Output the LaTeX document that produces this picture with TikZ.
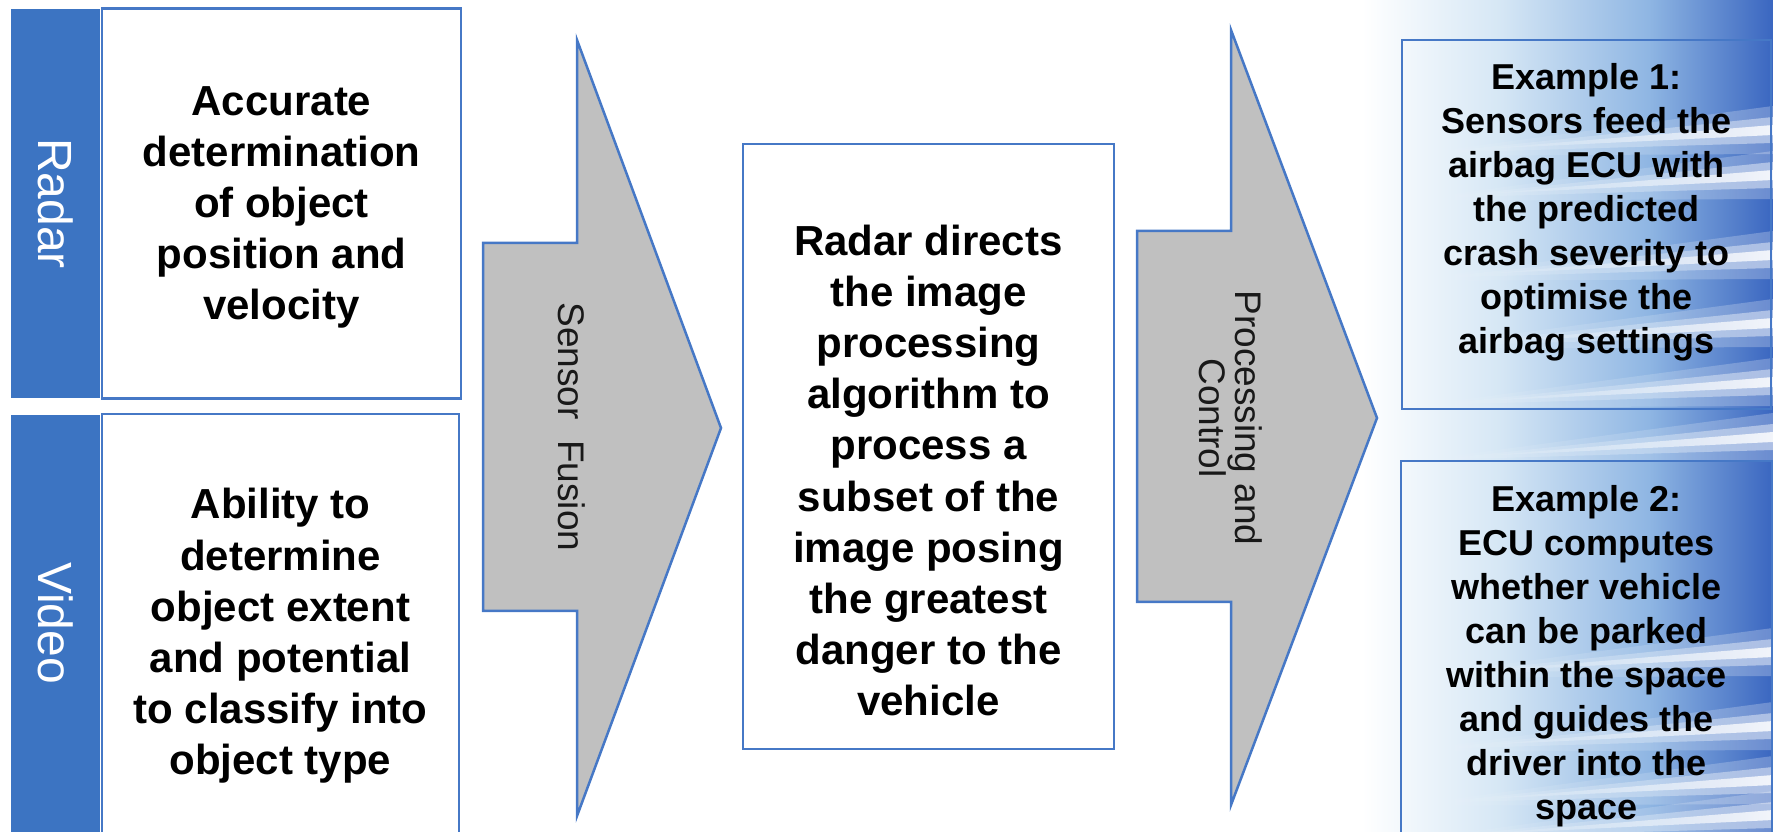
\documentclass[tikz,border=0pt]{standalone}
\usepackage{fontspec}
\setmainfont{Liberation Sans}
\usetikzlibrary{positioning,fadings}
\definecolor{sensblue}{HTML}{3C74C2}
\definecolor{edgeblue}{HTML}{4678C6}
\definecolor{fusegray}{HTML}{C0C0C0}
\definecolor{bglight}{HTML}{D6E7F5}
\definecolor{bgmid}{HTML}{8FB6E3}
\definecolor{bgdeep}{HTML}{3A66C0}
\pgfdeclarehorizontalshading{slideglow}{100bp}{color(0bp)=(white); color(25bp)=(white); color(42bp)=(white); color(53bp)=(bglight); color(65bp)=(bgmid); color(75bp)=(bgdeep); color(100bp)=(bgdeep)}

\tikzset{
  sensorbar/.style={fill=sensblue, minimum width=89pt, inner sep=0pt, outer sep=0pt},
  infobox/.style={draw=edgeblue, line width=2.5pt, inner sep=0pt, outer sep=0pt},
  boxtext/.style={align=center, font=\fontsize{42}{51.2}\selectfont\bfseries},
  extext/.style={align=center, font=\fontsize{36}{44}\selectfont\bfseries},
  barlabel/.style={text=white, rotate=-90, font=\fontsize{48}{56}\selectfont},
  arrowlabel/.style={rotate=-90, align=center, text=black!90, font=\fontsize{37}{36}\selectfont},
  flowarrow/.style={fill=fusegray, draw=edgeblue, line width=2.5pt, line join=miter},
  streak/.style={fill=white, path fading=west}
}

\begin{document}
\begin{tikzpicture}[x=1pt, y=1pt]
  \useasboundingbox (0,0) rectangle (1773,832);
  \clip (0,0) rectangle (1773,832);

  % background on the right
  \shade[shading=slideglow] (1150,0) rectangle (1773,832);
  \foreach \sy in {702,657,577,509,450,395,180,106,52,17} {
    \fill[streak, opacity=0.25] (1400,\sy-26) -- (1773,\sy+24) -- (1773,\sy-24) -- cycle;
    \fill[streak, opacity=0.45] (1430,\sy-23) -- (1773,\sy+13) -- (1773,\sy-13) -- cycle;
    \fill[streak, opacity=0.85] (1480,\sy-19) -- (1773,\sy+5) -- (1773,\sy-5) -- cycle;
  }

  % sensors
  \node[sensorbar, minimum height=389pt] (radarbar) at (55.5,628.5) {};
  \node[infobox, fill=white, minimum width=359pt, minimum height=390pt, right=2pt of radarbar] (radarbox) {};
  \node[sensorbar, minimum height=436pt, below=17pt of radarbar] (videobar) {};
  \node[infobox, fill=white, minimum width=357pt, minimum height=438pt, right=2pt of videobar] (videobox) {};

  \node[barlabel] (radarlbl) at (radarbar) {Radar};
  \node[barlabel] (videolbl) at ([yshift=10pt]videobar.center) {Video};
  \node[boxtext] (radartxt) at ([yshift=-4pt]radarbox.center) {Accurate\\determination\\of object\\position and\\velocity};
  \node[boxtext] (videotxt) at ([yshift=-3pt]videobox.center) {Ability to\\determine\\object extent\\and potential\\to classify into\\object type};

  % sensor fusion
  \draw[flowarrow] (483,589) -- (577,589) -- (577,792) -- (721,404) -- (577,16) -- (577,221) -- (483,221) -- cycle;
  \node[arrowlabel] (fusionlbl) at (572,405) {Sensor\ \ Fusion};

  \node[infobox, fill=white, minimum width=371pt, minimum height=605pt] (midbox) at (928.5,385.5) {};
  \node[boxtext] (midtxt) at ([yshift=-24pt]midbox.center) {Radar directs\\the image\\processing\\algorithm to\\process a\\subset of the\\image posing\\the greatest\\danger to the\\vehicle};

  % processing and control
  \draw[flowarrow] (1137,601) -- (1231,601) -- (1231,802) -- (1377,414) -- (1231,27) -- (1231,230) -- (1137,230) -- cycle;
  \node[arrowlabel] (ctrllbl) at (1231,414) {Processing and\\Control};

  % examples
  \node[infobox, minimum width=369pt, minimum height=369pt] (exonebox) at (1586.5,607.5) {};
  \node[infobox, minimum width=371pt, minimum height=390pt, below=52pt of exonebox] (extwobox) {};
  \node[extext] (exonetxt) at ([yshift=12pt]exonebox.center) {Example 1:\\Sensors feed the\\airbag ECU with\\the predicted\\crash severity to\\optimise the\\airbag settings};
  \node[extext] (extwotxt) at (extwobox) {Example 2:\\ECU computes\\whether vehicle\\can be parked\\within the space\\and guides the\\driver into the\\space};
\end{tikzpicture}
\end{document}
